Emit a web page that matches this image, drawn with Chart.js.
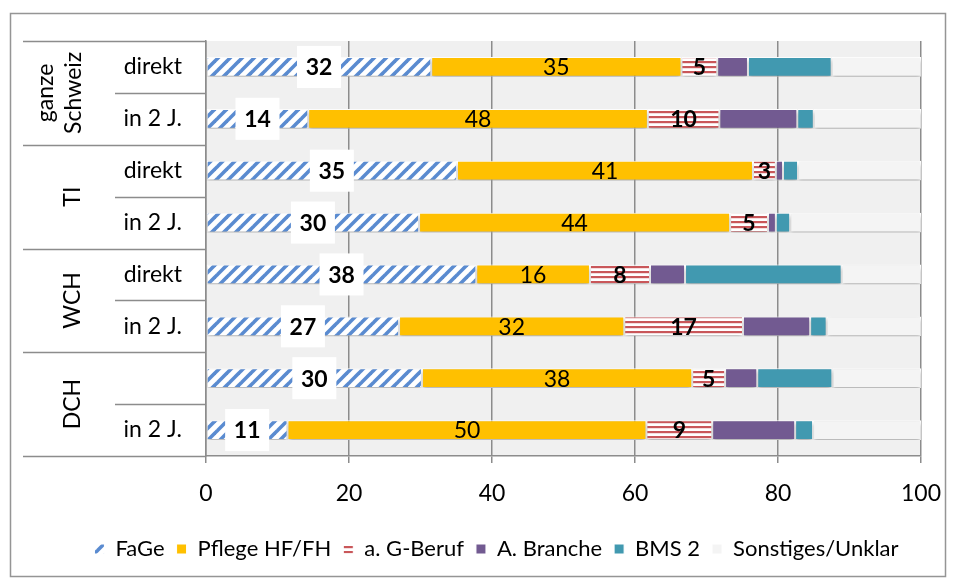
<!DOCTYPE html>
<html>
<head>
<meta charset="utf-8">
<script src="https://cdn.jsdelivr.net/npm/chart.js@4.4.1/dist/chart.umd.min.js"></script>
<style>
    body { margin: 0; background: #fff; }
    #chart { display: block; }
</style>
</head>
<body>
<canvas id="chart" width="956" height="581"></canvas>
<script>
// row labels (inner level) and group labels (outer level)
const rows = ['direkt', 'in 2 J.', 'direkt', 'in 2 J.', 'direkt', 'in 2 J.', '', 'in 2 J.'];
const groups = [['ganze', 'Schweiz'], ['TI'], ['WCH'], ['DCH']];

const fage    = [31.5, 14.3, 35.1, 29.8, 37.8, 27.0, 30.2, 11.4];
const pflege  = [35.0, 47.5, 41.4, 43.5, 15.9, 31.5, 37.8, 50.2];
const gBeruf  = [5.0, 10.0, 3.2, 5.3, 8.4, 16.6, 4.6, 9.2];
const branche = [4.3, 10.9, 1.0, 1.1, 4.9, 9.4, 4.5, 11.6];
const bms2    = [11.7, 2.3, 2.1, 2.0, 21.9, 2.3, 10.5, 2.5];
const sonst   = [12.5, 15.0, 17.2, 18.3, 11.1, 13.2, 12.4, 15.1];

const xTicks = [0, 20, 40, 60, 80, 100];

const FONT = 'Lato';
const FS = 23;
const GRAY = '#8c8c8c';

function diagPattern() {
    const c = document.createElement('canvas');
    c.width = 12; c.height = 12;
    const p = c.getContext('2d');
    p.fillStyle = '#fff';
    p.fillRect(0, 0, 12, 12);
    p.strokeStyle = '#5a8bd0';
    p.lineWidth = 3.6;
    for (let o = -12; o <= 12; o += 12) {
        p.beginPath();
        p.moveTo(o - 2, 14);
        p.lineTo(o + 14, -2);
        p.stroke();
    }
    return p.createPattern(c, 'repeat');
}

function stripePattern() {
    const c = document.createElement('canvas');
    c.width = 6; c.height = 5;
    const p = c.getContext('2d');
    p.fillStyle = '#fff';
    p.fillRect(0, 0, 6, 5);
    p.fillStyle = '#c9575a';
    p.fillRect(0, 1, 6, 2.2);
    return p.createPattern(c, 'repeat');
}

const decor = {
    id: 'decor',
    beforeDraw: chart => {
        const ctx = chart.ctx;
        const a = chart.chartArea;
        ctx.save();
        ctx.fillStyle = '#f0f0f0';
        ctx.fillRect(a.left, a.top, a.right - a.left, a.bottom - a.top);
        ctx.strokeStyle = '#959595';
        ctx.lineWidth = 1.5;
        ctx.strokeRect(10.5, 13.5, 935, 563);
        ctx.restore();
    },
    beforeDatasetsDraw: chart => {
        const ctx = chart.ctx;
        ctx.save();
        ctx.shadowColor = 'rgba(0,0,0,0.3)';
        ctx.shadowBlur = 4;
        ctx.shadowOffsetY = 3;
    },
    afterDatasetsDraw: chart => {
        const ctx = chart.ctx;
        ctx.restore();
        ctx.save();
        ctx.textAlign = 'center';
        ctx.textBaseline = 'middle';
        [0, 1, 2].forEach(di => {
            const meta = chart.getDatasetMeta(di);
            const vals = chart.data.datasets[di].data;
            meta.data.forEach((bar, i) => {
                const { x, base, y } = bar.getProps(['x', 'base', 'y'], true);
                const cx = (x + base) / 2;
                const txt = String(Math.round(vals[i]));
                if (di === 0) {
                    ctx.fillStyle = '#fff';
                    ctx.fillRect(cx - 22, y - 21, 44, 42);
                }
                ctx.font = (di === 1 ? '' : 'bold ') + FS + 'px ' + FONT;
                ctx.fillStyle = '#000';
                ctx.fillText(txt, cx, y + 1);
            });
        });
        ctx.restore();
    },
    afterDraw: chart => {
        const ctx = chart.ctx;
        const ys = chart.scales.y;
        ctx.save();
        ctx.strokeStyle = GRAY;
        ctx.lineWidth = 1.5;
        ctx.beginPath();
        for (let g = 0; g <= groups.length; g++) {
            const py = Math.round(ys.getPixelForValue(g * 2 - 0.5)) + 0.5;
            ctx.moveTo(23, py);
            ctx.lineTo(ys.right, py);
        }
        for (let g = 0; g < groups.length; g++) {
            const py = Math.round(ys.getPixelForValue(g * 2 + 0.5)) + 0.5;
            ctx.moveTo(115, py);
            ctx.lineTo(ys.right, py);
        }
        ctx.stroke();

        ctx.fillStyle = '#000';
        ctx.font = FS + 'px ' + FONT;
        ctx.textAlign = 'center';
        ctx.textBaseline = 'middle';
        groups.forEach((lines, g) => {
            const cy = ys.getPixelForValue(g * 2 + 0.5);
            ctx.save();
            ctx.translate(lines.length > 1 ? 60 : 73, cy);
            ctx.rotate(-Math.PI / 2);
            lines.forEach((t, k) => {
                ctx.fillText(t, 0, (k - (lines.length - 1) / 2) * 28);
            });
            ctx.restore();
        });
        ctx.restore();
    }
};

const barStyle = {
    borderColor: '#fff',
    borderWidth: 1,
    borderSkipped: false,
    barPercentage: 0.38,
    categoryPercentage: 1
};

new Chart(document.getElementById('chart'), {
    type: 'bar',
    data: {
        labels: rows,
        datasets: [
            { label: 'FaGe', data: fage, backgroundColor: diagPattern(), ...barStyle },
            { label: 'Pflege HF/FH', data: pflege, backgroundColor: '#ffc000', ...barStyle },
            { label: 'a. G-Beruf', data: gBeruf, backgroundColor: stripePattern(), ...barStyle },
            { label: 'A. Branche', data: branche, backgroundColor: '#725a91', ...barStyle },
            { label: 'BMS 2', data: bms2, backgroundColor: '#4199b0', ...barStyle },
            { label: 'Sonstiges/Unklar', data: sonst, backgroundColor: '#f4f4f4', ...barStyle }
        ]
    },
    options: {
        indexAxis: 'y',
        responsive: false,
        animation: false,
        devicePixelRatio: 1,
        layout: { padding: { top: 41, left: 72, right: 35, bottom: 11 } },
        scales: {
            x: {
                stacked: true,
                min: 0,
                max: 100,
                afterBuildTicks: s => { s.ticks = xTicks.map(v => ({ value: v })); },
                ticks: { font: { family: FONT, size: FS, lineHeight: 1.4 }, color: '#000', padding: 14 },
                grid: { color: GRAY, lineWidth: 1.5, tickLength: 7 },
                border: { color: GRAY, width: 1.5 },
                afterFit: s => { s.height = 70; }
            },
            y: {
                stacked: true,
                ticks: { font: { family: FONT, size: FS }, color: '#000', padding: 24 },
                grid: { display: false, drawTicks: false },
                border: { color: GRAY, width: 1.5 },
                afterFit: s => { s.width = 134; }
            }
        },
        plugins: {
            legend: {
                position: 'bottom',
                labels: {
                    font: { family: FONT, size: 22 },
                    color: '#000',
                    boxWidth: 10,
                    boxHeight: 10,
                    padding: 12
                }
            },
            tooltip: { enabled: false }
        }
    },
    plugins: [decor]
});
</script>
</body>
</html>
